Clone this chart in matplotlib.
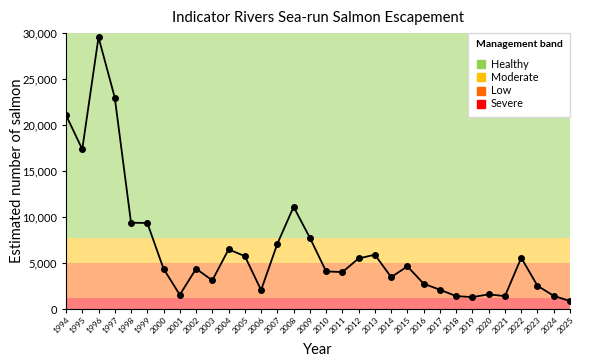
import numpy as np
import matplotlib.pyplot as plt
from matplotlib.ticker import FuncFormatter
from matplotlib.lines import Line2D

plt.rcParams['font.family'] = ['Lato', 'DejaVu Sans']

years = list(range(1994, 2026))
salmon = [21050, 17350, 29500, 22950, 9370, 9350, 4380, 1550, 4380, 3120,
          6480, 5750, 2060, 7090, 11100, 7740, 4090, 4020, 5500, 5900,
          3470, 4640, 2750, 2100, 1410, 1300, 1600, 1410, 5570, 2530,
          1440, 870]

band_names = ['Healthy', 'Moderate', 'Low', 'Severe']
band_colors = ['#92d050', '#ffc000', '#ff6600', '#ff0000']
band_tops = [30000, 7750, 5050, 1220]

fig = plt.figure(figsize=(6.0, 3.59), dpi=100)
ax = fig.add_axes([0.11, 0.139, 0.84, 0.77])

bounds = band_tops + [0]
for i in range(len(band_names)):
    ax.axhspan(bounds[i + 1], bounds[i], color=band_colors[i], alpha=0.5, lw=0, zorder=0)

ax.plot(years, salmon, color='black', lw=1.3, marker='o', ms=4, zorder=3)

ax.set_xlim(1994, 2025)
ax.set_ylim(0, 30000)
ax.set_xticks(years)
ax.set_xticklabels([str(y) for y in years], rotation=45, ha='right', rotation_mode='anchor', fontsize=6)
ax.set_yticks(range(0, 30001, 5000))
ax.yaxis.set_major_formatter(FuncFormatter(lambda v, p: f'{int(v):,}'))
ax.tick_params(axis='y', labelsize=8, length=3)
ax.tick_params(axis='x', length=3, pad=2)

for s in ['top', 'right']:
    ax.spines[s].set_visible(False)

ax.set_title('Indicator Rivers Sea-run Salmon Escapement', fontsize=10.7, pad=8)
ax.set_ylabel('Estimated number of salmon', fontsize=10.5)
ax.yaxis.set_label_coords(-0.083, 0.5)
ax.set_xlabel('Year', fontsize=10.5, labelpad=6)

handles = [Line2D([0], [0], marker='s', color='none', markerfacecolor=c, markeredgecolor=c, ms=5.5)
           for c in band_colors]
leg = ax.legend(handles, band_names, title='Management band', loc='upper right',
                fontsize=7.8, title_fontproperties={'weight': 'bold', 'size': 7.5},
                fancybox=False, framealpha=1, edgecolor='#d9d9d9', borderpad=0.7,
                handletextpad=0.4, labelspacing=0.2, handlelength=1.0,
                borderaxespad=0, bbox_to_anchor=(1.0, 1.0))
leg._legend_box.align = 'left'
leg._legend_box.sep = 7

fig.savefig('out.png', dpi=100)
